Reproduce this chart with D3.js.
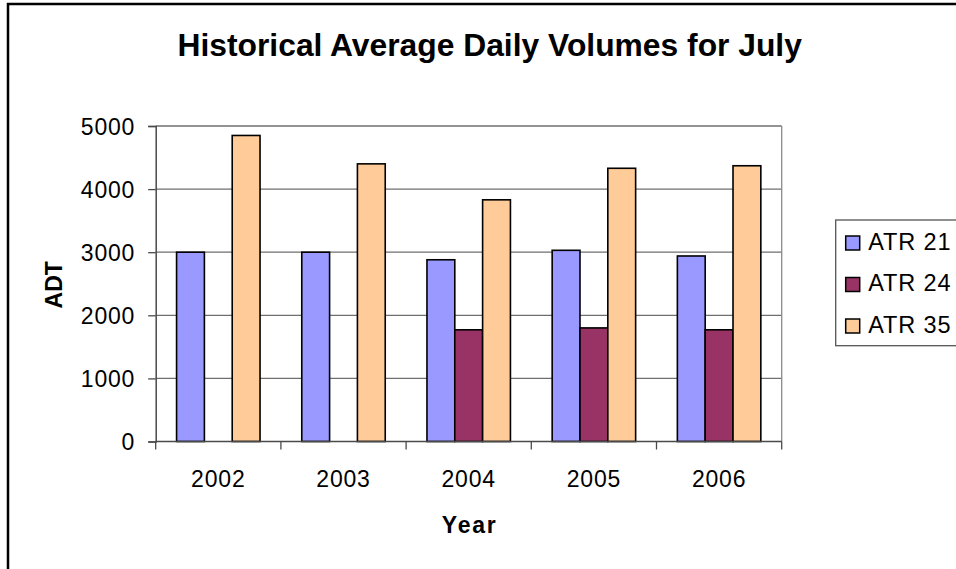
<!DOCTYPE html>
<html>
<head>
<meta charset="utf-8">
<script src="https://cdn.jsdelivr.net/npm/d3@7"></script>
<style>
  html, body { margin: 0; padding: 0; background: #fff; }
  svg { display: block; font-family: "Liberation Sans", Arial, sans-serif; }
</style>
</head>
<body>
<svg id="chart" width="956" height="569"></svg>
<script>
// Historical July average daily traffic per counter station
const years = ["2002", "2003", "2004", "2005", "2006"];
const seriesNames = ["ATR 21", "ATR 24", "ATR 35"];
const atr21 = [3000, 3000, 2880, 3030, 2940];
const atr24 = [null, null, 1770, 1800, 1770];
const atr35 = [4850, 4400, 3830, 4330, 4370];
const yTicks = [0, 1000, 2000, 3000, 4000, 5000];
const seriesColors = ["#9999FF", "#993366", "#FFCC99"];

const seriesValues = [atr21, atr24, atr35];

const svg = d3.select("#chart");

// Outer chart frame (continues past the right and bottom edges)
svg.append("rect")
  .attr("x", 8).attr("y", 4)
  .attr("width", 1000).attr("height", 600)
  .attr("fill", "#fff")
  .attr("stroke", "#000")
  .attr("stroke-width", 2.5);

const plot = { left: 155.7, right: 781.7, top: 126, bottom: 441.5 };

const x0 = d3.scaleBand().domain(years).range([plot.left, plot.right]).padding(0);
const x1 = d3.scaleBand().domain(seriesNames).range([0, x0.bandwidth()])
  .paddingInner(0).paddingOuter(0.75);
const y = d3.scaleLinear().domain([0, 5000]).range([plot.bottom, plot.top]);

// Gridlines
svg.append("g")
  .selectAll("line")
  .data(yTicks.filter(d => d > 0))
  .join("line")
  .attr("x1", plot.left).attr("x2", plot.right)
  .attr("y1", d => y(d)).attr("y2", d => y(d))
  .attr("stroke", "#6f6f6f").attr("stroke-width", 1.3);

// Plot area border (right side)
svg.append("line")
  .attr("x1", plot.right).attr("x2", plot.right)
  .attr("y1", plot.top).attr("y2", plot.bottom)
  .attr("stroke", "#8a8a8a").attr("stroke-width", 1.3);

// Bars
const groups = svg.append("g")
  .selectAll("g")
  .data(years)
  .join("g")
  .attr("transform", d => `translate(${x0(d)},0)`);

groups.selectAll("rect")
  .data((yr, i) => seriesNames.map((s, k) => ({ s, k, v: seriesValues[k][i] })).filter(d => d.v != null))
  .join("rect")
  .attr("x", d => x1(d.s))
  .attr("width", x1.bandwidth())
  .attr("y", d => y(d.v))
  .attr("height", d => y(0) - y(d.v))
  .attr("fill", d => seriesColors[d.k])
  .attr("stroke", "#000")
  .attr("stroke-width", 1.6);

// Y axis
const yAxis = svg.append("g")
  .attr("transform", `translate(${plot.left},0)`)
  .call(d3.axisLeft(y).tickValues(yTicks).tickFormat(d3.format("d")).tickSize(7.5).tickPadding(13));
yAxis.select(".domain").attr("stroke", "#4a4a4a").attr("stroke-width", 1.5);
yAxis.selectAll(".tick line").attr("stroke", "#4a4a4a").attr("stroke-width", 1.3);
yAxis.selectAll(".tick text")
  .attr("font-size", 23)
  .attr("font-family", "Liberation Sans, Arial, sans-serif")
  .attr("letter-spacing", 0.8)
  .attr("fill", "#000")
  .attr("dy", "0.36em");

// X axis: ticks on category boundaries
const xAxisG = svg.append("g").attr("transform", `translate(0,${plot.bottom})`);
xAxisG.append("line")
  .attr("x1", plot.left).attr("x2", plot.right)
  .attr("stroke", "#4a4a4a").attr("stroke-width", 1.5);
const boundaries = years.map(d => x0(d)).concat([x0(years[years.length - 1]) + x0.bandwidth()]);
xAxisG.selectAll("line.tk")
  .data(boundaries)
  .join("line")
  .attr("class", "tk")
  .attr("x1", d => d).attr("x2", d => d)
  .attr("y1", 0).attr("y2", 8)
  .attr("stroke", "#4a4a4a").attr("stroke-width", 1.3);
xAxisG.selectAll("text")
  .data(years)
  .join("text")
  .attr("x", d => x0(d) + x0.bandwidth() / 2)
  .attr("y", 45.2)
  .attr("text-anchor", "middle")
  .attr("font-size", 23)
  .attr("letter-spacing", 0.8)
  .attr("fill", "#000")
  .text(d => d);

// Title
svg.append("text")
  .attr("x", 489.7).attr("y", 56)
  .attr("text-anchor", "middle")
  .attr("font-size", 31.8)
  .attr("font-weight", "bold")
  .text("Historical Average Daily Volumes for July");

// Axis titles
svg.append("text")
  .attr("x", (plot.left + plot.right) / 2 + 1).attr("y", 533.3)
  .attr("text-anchor", "middle")
  .attr("font-size", 23)
  .attr("font-weight", "bold")
  .attr("letter-spacing", 1.8)
  .text("Year");

svg.append("text")
  .attr("transform", `translate(61.5,${(plot.top + plot.bottom) / 2 + 1}) rotate(-90)`)
  .attr("text-anchor", "middle")
  .attr("font-size", 23)
  .attr("font-weight", "bold")
  .text("ADT");

// Legend
const legend = svg.append("g").attr("transform", "translate(835.7,220)");
legend.append("rect")
  .attr("width", 200).attr("height", 125.7)
  .attr("fill", "#fff")
  .attr("stroke", "#555").attr("stroke-width", 1.3);
const rows = legend.selectAll("g.row")
  .data(seriesNames)
  .join("g")
  .attr("class", "row")
  .attr("transform", (d, i) => `translate(0,${23 + i * 41.5})`);
rows.append("rect")
  .attr("x", 10).attr("y", -7)
  .attr("width", 14).attr("height", 14)
  .attr("fill", (d, i) => seriesColors[i])
  .attr("stroke", "#000").attr("stroke-width", 1.5);
rows.append("text")
  .attr("x", 32.5).attr("y", 6.5)
  .attr("font-size", 23.5)
  .attr("letter-spacing", 0.9)
  .attr("fill", "#000")
  .text(d => d);
</script>
</body>
</html>
